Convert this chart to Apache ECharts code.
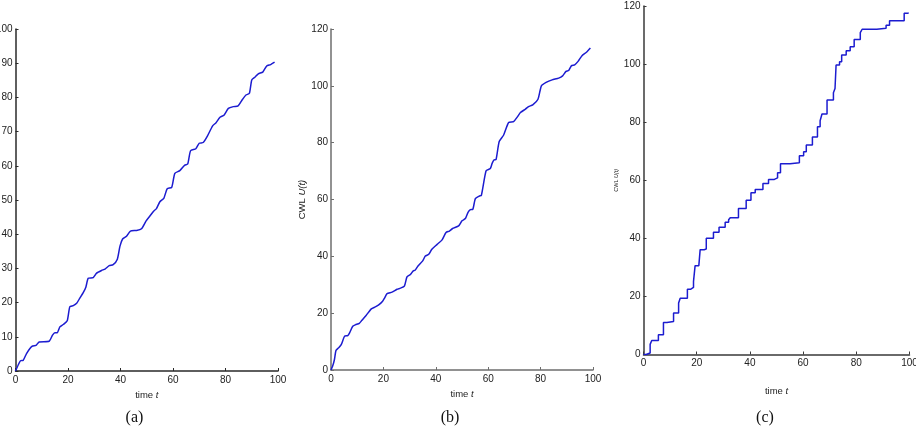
<!DOCTYPE html>
<html><head><meta charset="utf-8">
<script src="https://cdn.jsdelivr.net/npm/echarts@6/dist/echarts.min.js"></script>
<style>html,body{margin:0;padding:0;background:#fff}#c{width:916px;height:426px}</style>
</head><body><div id="c"></div>
<script>
// Panel (a)
const aT = [0,1.3,1.9,2.9,4.2,5.5,6.5,7.8,9,12.8,14.1,15,15.9,16.9,18.2,19.7,20.7,22,23.3,24.5,25.8,26.8,27.7,29.6,30.9,32.8,34.1,35.7,37.2,38.8,39.8,40.8,42.3,43.8,46.1,48,49.7,51.2,52.7,53.7,55,56.5,57.8,59.5,60.7,62.6,64.5,65.6,66.7,68.7,70,71.5,73.1,75.1,76.4,77.9,79.4,81.1,83,84.8,86.2,87.8,89.1,90,91.2,92.5,94.2,95.7,97.2,98.7];
const aY = [0,2.2,3,3.1,5.1,6.6,7.3,7.5,8.5,8.7,10.5,11.2,11.2,12.9,13.6,14.7,18.8,19.1,19.8,21.3,22.9,24.5,27.1,27.3,28.6,29.4,29.8,30.8,31.1,32.7,36.5,38.6,39.4,40.9,41.1,41.6,43.8,45.3,46.8,47.5,49.5,50.5,53.3,53.7,57.8,58.6,60.2,60.5,64.4,65,66.6,66.8,68.7,71.7,72.6,74.2,74.8,76.8,77.3,77.5,79.1,80.7,81.2,85.1,85.9,86.9,87.4,89.2,89.6,90.3];
// Panel (b)
const bT = [0,0.6,1.3,1.9,2.9,3.9,5.2,6.4,7.1,8.3,9.3,10.8,11.8,13.4,15.4,16.9,18.2,19.7,20.5,21.4,23.3,25.2,26.5,28,29,30.3,31.3,32.2,33.2,35,36,37.3,38.5,40.5,42.4,43.9,45.2,46.4,48.7,50,51.3,52.3,53.2,54.1,55.1,56.6,57.4,59.2,60.8,61.5,62.2,63,64.2,65.9,67.8,69.7,71,72.3,74.2,75.4,77,79,80.3,82.1,84.4,86.9,88.4,89.7,90.7,91.8,93,94.3,95.8,97.5,99];
const bY = [0,1.3,3.6,6.9,7.8,8.9,11.9,12.1,13.1,15.4,15.9,16.4,17.5,19.2,21.5,22.2,22.9,24.2,25.4,26.9,27.4,28.4,28.8,29.5,32.8,33.6,34.8,35.2,36.6,38.4,40.1,40.7,42.5,44.2,45.8,48.4,48.9,49.8,50.7,52.5,53.3,55.5,56.4,56.5,60.3,61.2,61.5,70.1,70.9,72.7,73.9,74.1,80.4,82.7,87.1,87.4,88.9,90.6,91.8,92.7,93.3,95.3,100,101.2,102.1,102.7,103.5,105.1,105.4,107.1,107.4,108.6,110.6,111.8,113.3];
// Panel (c) (step: time of jump, new level)
const cT = [0,1,2.5,3.1,5.6,7.5,8.8,11.3,13.2,13.8,16.5,17.8,18.8,19.4,20.8,21.3,22.8,23.6,26.3,28.4,30.7,32,32.6,35.7,38.6,40.4,42,44.9,47,49.2,50.4,51.5,55.1,58.6,60.2,61.2,63.5,65.4,66.4,67.1,69,71.4,72,72.4,73.7,74.5,76.2,77.7,79.2,81.5,82.2,87.7,91.2,92.5,98,99.5];
const cY = [0,0.5,3.5,4.8,6.8,11,11.4,14.3,17.7,19.4,22.5,23.1,25.2,30.6,30.9,36.1,36.3,40,42.1,43.8,45.5,46.4,47.1,50.3,53.1,55.7,56.8,58.9,60.3,60.8,62.6,65.7,66,68.4,69.8,72.1,74.9,78.4,80.5,82.8,87.6,90.1,91.6,99.7,100.8,103.1,104.6,106,108.5,110.8,112,112.3,113.4,114.9,117.5,117.8];
const captions = ['(a)','(b)','(c)'];

const zip = (t, y) => t.map((v, i) => [v, y[i]]);
const lineColor = '#1c1cd0';
const sans = 'Liberation Sans';

const grids = [
  {left: 15.5, top: 29, width: 262.5, height: 342, containLabel: false, outerBoundsMode: 'none'},
  {left: 331, top: 29, width: 262, height: 341, containLabel: false, outerBoundsMode: 'none'},
  {left: 643.5, top: 6, width: 266, height: 348.5, containLabel: false, outerBoundsMode: 'none'}
];
const axisCols = ['#2a2a2a', '#6e6e6e', '#3a3a3a'];
const yMax = [100, 120, 120], yInt = [10, 20, 20];
const xNameGap = [15, 15, 32];

const xAxes = grids.map((g, i) => ({
  type: 'value', gridIndex: i, min: 0, max: 100, interval: 20,
  axisLine: {show: true, lineStyle: {color: axisCols[i], width: 1.5}},
  axisTick: {show: true, inside: true, length: 3, lineStyle: {color: axisCols[i]}},
  axisLabel: {margin: 4, fontFamily: sans, fontSize: 10, color: '#222'},
  splitLine: {show: false},
  name: '{n|time }{i|t}', nameLocation: 'middle', nameGap: xNameGap[i],
  nameTextStyle: {rich: {n: {fontFamily: sans, fontSize: 9.5, color: '#222'}, i: {fontFamily: sans, fontSize: 9.5, fontStyle: 'italic', color: '#222'}}}
}));
const yAxes = grids.map((g, i) => {
  const ax = {
    type: 'value', gridIndex: i, min: 0, max: yMax[i], interval: yInt[i],
    axisLine: {show: true, lineStyle: {color: axisCols[i], width: 1.5}},
    axisTick: {show: true, inside: true, length: 3, lineStyle: {color: axisCols[i]}},
    axisLabel: {margin: 3, fontFamily: sans, fontSize: 10, color: '#222'},
    splitLine: {show: false}
  };
  if (i > 0) {
    const fs = i === 1 ? 9.5 : 5.5;
    ax.name = '{n|CWL }{i|U(t)}';
    ax.nameLocation = 'middle';
    ax.nameRotate = 90;
    ax.nameGap = i === 1 ? 24 : 24;
    ax.nameTextStyle = {rich: {n: {fontFamily: sans, fontSize: fs, color: '#222'}, i: {fontFamily: sans, fontSize: fs, fontStyle: 'italic', color: '#222'}}};
  }
  return ax;
});

const series = [
  {type: 'line', xAxisIndex: 0, yAxisIndex: 0, data: zip(aT, aY), showSymbol: false, smooth: 0.2, lineStyle: {color: lineColor, width: 1.5}, animation: false},
  {type: 'line', xAxisIndex: 1, yAxisIndex: 1, data: zip(bT, bY), showSymbol: false, smooth: 0.2, lineStyle: {color: lineColor, width: 1.5}, animation: false},
  {type: 'line', xAxisIndex: 2, yAxisIndex: 2, data: zip(cT, cY), showSymbol: false, step: 'end', lineStyle: {color: lineColor, width: 1.5}, animation: false}
];

const capX = [134.5, 450, 765];
const graphic = captions.map((c, i) => ({
  type: 'text', x: capX[i], y: 418,
  style: {text: c, fontFamily: 'Liberation Serif', fontSize: 16, fill: '#111', align: 'center', verticalAlign: 'middle'}
}));

const chart = echarts.init(document.getElementById('c'));
chart.setOption({animation: false, grid: grids, xAxis: xAxes, yAxis: yAxes, series, graphic});
</script></body></html>
